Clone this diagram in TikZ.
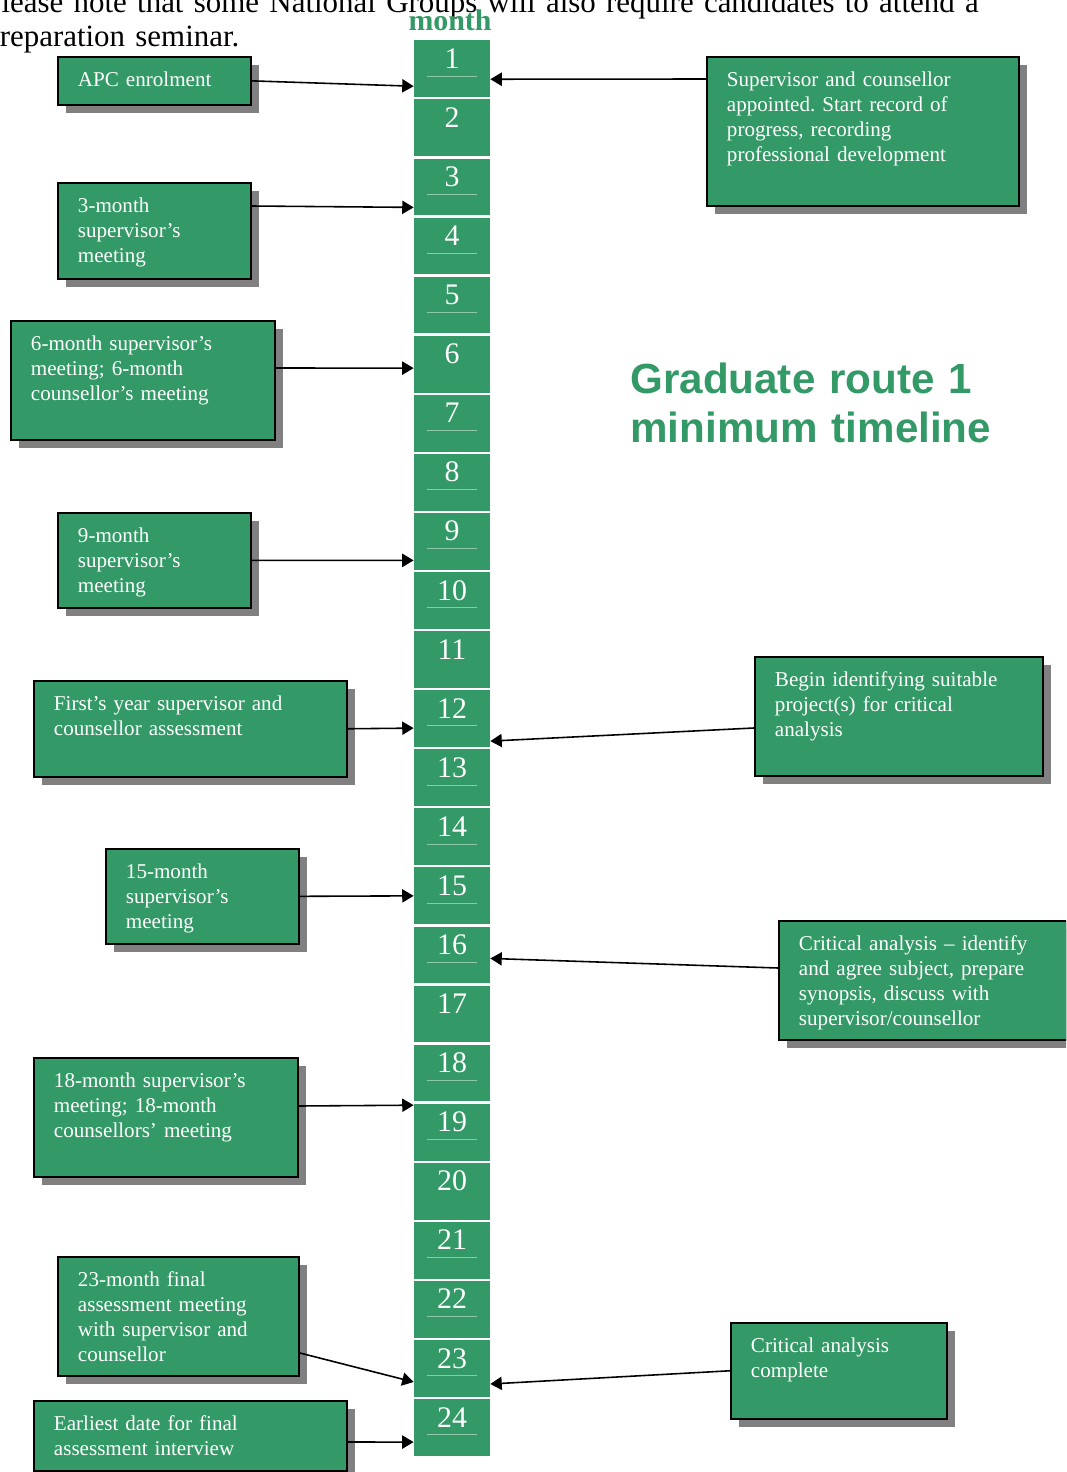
\documentclass[tikz,border=0pt]{standalone}
\usepackage{fontspec}
\setmainfont{Liberation Serif}
\newfontfamily\headfont{Liberation Sans}
\usetikzlibrary{arrows.meta,shadows}
\definecolor{seagreen}{RGB}{51,153,102}
\definecolor{shade}{RGB}{128,128,128}
\colorlet{cellrulecolor}{seagreen!55!white}
\frenchspacing

\begin{document}
\begin{tikzpicture}[x=0.02cm, y=-0.02cm,
    card/.style={draw=black, line width=1.1pt, fill=seagreen, text=white, anchor=north west, align=left, inner xsep=0.4cm, inner ysep=8pt, text height=9pt, font=\fontsize{12}{14.2}\selectfont, drop shadow={shadow xshift=0.16cm, shadow yshift=-0.16cm, fill=shade, opacity=1}},
    monthcell/.style={fill=seagreen, text=white, anchor=north, inner sep=0pt, minimum width=1.52cm, text height=15.9pt, text depth=16.4pt, font=\fontsize{17}{17}\selectfont},
    cellrule/.style={draw=cellrulecolor, line width=0.5pt},
    arrowline/.style={draw=black, line width=0.9pt, -{Triangle[length=6.5pt, width=7.5pt]}}
  ]
  \useasboundingbox (0,0) rectangle (1066,1472);
  \clip (0,0) rectangle (1066,1472);

  % heading text
  \node [anchor=base west, inner sep=0pt, text width=23cm, align=left, font=\fontsize{17.6}{19.8}\selectfont] (note) at (-16,12) {Please note that some National Groups will also require candidates to attend a\\preparation seminar.};
  \node [anchor=base, inner sep=0pt, text=seagreen, font=\bfseries\fontsize{17}{17}\selectfont] (monthhead) at (450,30) {month};
  \node [anchor=base west, inner sep=0pt, text width=9cm, align=left, text=seagreen, font=\headfont\bfseries\fontsize{24}{28.3}\selectfont] (title) at (630,393) {Graduate route 1\\minimum timeline};

  % month column
  \foreach \i in {1,...,24}
    \node [monthcell] (m\i) at (452,{40+(\i-1)*59.08}) {\i};
  \foreach \i in {1,3,4,5,7,8,9,10,12,13,14,15,16,18,19,21,22,23,24}
    \draw [cellrule] ([xshift=-0.5cm, yshift=-0.72cm]m\i.north) -- ([xshift=0.5cm, yshift=-0.72cm]m\i.north);

  % left boxes
  \node [card, text width=3.06cm, text depth=2.2pt] (apc) at (57,56) {APC enrolment};
  \node [card, text width=3.06cm, text depth=29.4pt] (mth3) at (57,182) {3-month\\supervisor’s\\meeting};
  \node [card, text width=4.48cm, text depth=43pt] (mth6) at (10,320) {6-month supervisor’s\\meeting; 6-month\\counsellor’s meeting};
  \node [card, text width=3.06cm, text depth=28.9pt] (mth9) at (57,512) {9-month\\supervisor’s\\meeting};
  \node [card, text width=5.46cm, text depth=29.4pt] (first) at (33,680) {First’s year supervisor and\\counsellor assessment};
  \node [card, text width=3.06cm, text depth=28.9pt] (mth15) at (105,848) {15-month\\supervisor’s\\meeting};
  \node [card, text width=4.48cm, text depth=43pt] (mth18) at (33,1057) {18-month supervisor’s\\meeting; 18-month\\counsellors’ meeting};
  \node [card, text width=4.02cm, text depth=43pt] (mth23) at (57,1256) {23-month final\\assessment meeting\\with supervisor and\\counsellor};
  \node [card, text width=5.46cm, text depth=14.7pt] (earliest) at (33,1400) {Earliest date for final\\assessment interview};

  % right boxes
  \node [card, text width=5.44cm, text depth=60pt] (appoint) at (706,56) {Supervisor and counsellor\\appointed. Start record of\\progress, recording\\professional development};
  \node [card, text width=4.96cm, text depth=43pt] (projects) at (754,656) {Begin identifying suitable\\project(s) for critical\\analysis};
  \node [card, text width=4.96cm, text depth=43pt] (critstart) at (778,920) {Critical analysis – identify\\and agree subject, prepare\\synopsis, discuss with\\supervisor/counsellor};
  \node [card, text width=3.52cm, text depth=29.4pt] (critend) at (730,1322) {Critical analysis\\complete};

  % connectors
  \draw [arrowline] (apc.east) -- ([yshift=-0.35cm]m1.west);
  \draw [arrowline] ([yshift=-0.46cm]appoint.north west) -- ([yshift=-0.21cm]m1.east);
  \draw [arrowline] ([yshift=-0.48cm]mth3.north east) -- ([yshift=-0.41cm]m3.west);
  \draw [arrowline] ([yshift=-0.96cm]mth6.north east) -- ([yshift=-0.08cm]m6.west);
  \draw [arrowline] (mth9.east) -- ([yshift=-0.38cm]m9.west);
  \draw [arrowline] (first.east) -- ([yshift=-0.19cm]m12.west);
  \draw [arrowline] ([yshift=-1.44cm]projects.north west) -- ([yshift=-0.45cm]m12.east);
  \draw [arrowline] (mth15.east) -- (m15.west);
  \draw [arrowline] ([yshift=-0.96cm]critstart.north west) -- ([yshift=-0.07cm]m16.east);
  \draw [arrowline] ([yshift=-0.98cm]mth18.north east) -- ([yshift=0.54cm]m19.west);
  \draw [arrowline] ([yshift=-1.94cm]mth23.north east) -- ([yshift=-0.27cm]m23.west);
  \draw [arrowline] (critend.west) -- ([yshift=-0.31cm]m23.east);
  \draw [arrowline] ([yshift=-0.84cm]earliest.north east) -- ([yshift=-0.29cm]m24.west);
\end{tikzpicture}
\end{document}
